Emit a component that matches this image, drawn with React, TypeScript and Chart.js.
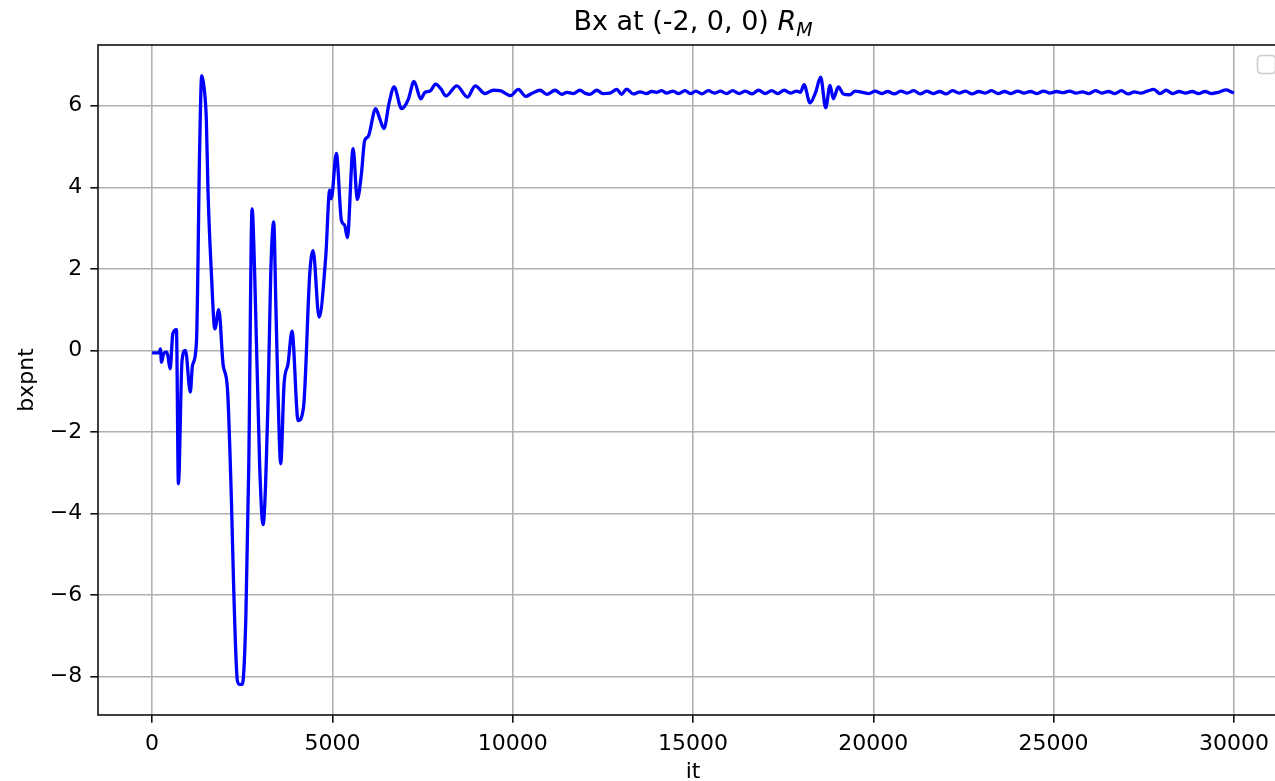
import React, { useEffect, useRef } from "react";
import { Chart, registerables } from "chart.js";

Chart.register(...registerables);

// ---- data ----
const xTickValues = [0, 5000, 10000, 15000, 20000, 25000, 30000];
const yTickValues = [-8, -6, -4, -2, 0, 2, 4, 6];
const xLimits = [-1500, 31500];
const yLimits = [-8.94, 7.49];

const titleMain = "Bx at (-2, 0, 0) ";
const titleSymbol = "R";
const titleSubscript = "M";
const xAxisLabel = "it";
const yAxisLabel = "bxpnt";

// [it, bxpnt]
const transientPhase: [number, number][] = [
  [0, -0.06], [200, -0.06], [230, 0.04], [260, -0.29], [320, -0.08],
  [400, -0.04], [440, -0.14], [500, -0.45], [575, 0.41], [675, 0.51],
  [730, -3.27], [830, -0.25], [925, 0.0], [1060, -1.02], [1120, -0.37],
  [1230, 0.2], [1320, 5.0], [1375, 6.74], [1440, 6.46], [1505, 5.64],
  [1550, 3.92], [1645, 1.88], [1740, 0.53], [1850, 1.0], [1970, -0.35],
  [2090, -0.94], [2200, -3.68], [2265, -5.9], [2365, -8.1], [2430, -8.19],
  [2500, -8.19], [2600, -6.55], [2680, -2.87], [2773, 3.47], [2845, 1.88],
  [2985, -2.87], [3077, -4.27], [3215, -1.23], [3290, 1.88], [3373, 3.15],
  [3430, 1.2], [3490, -0.98], [3567, -2.78], [3660, -0.82], [3770, -0.33],
  [3880, 0.47], [4050, -1.72], [4200, -1.39], [4372, 1.88], [4465, 2.45],
  [4630, 0.82], [4815, 2.29], [4925, 3.93], [4970, 3.72], [5110, 4.83],
  [5250, 3.19], [5340, 3.07], [5415, 2.77], [5575, 4.95], [5690, 3.7],
  [5805, 4.33], [5895, 5.15], [5990, 5.24], [6200, 5.93], [6310, 5.69],
  [6430, 5.44], [6570, 6.06], [6710, 6.46], [6920, 5.93], [6990, 5.97],
  [7110, 6.17], [7265, 6.6], [7450, 6.17], [7570, 6.33], [7710, 6.36],
  [7865, 6.53], [8005, 6.42], [8150, 6.24], [8450, 6.49], [8745, 6.21],
  [8960, 6.49], [9230, 6.3], [9465, 6.38], [9650, 6.37], [9945, 6.25],
];

const steadyPhase: [number, number][] = [
  [10155, 6.4], [10360, 6.23], [10525, 6.3], [10760, 6.38], [10945, 6.28],
  [11175, 6.38], [11360, 6.28], [11500, 6.33], [11680, 6.3], [11865, 6.38],
  [12000, 6.31], [12145, 6.28], [12330, 6.38], [12500, 6.3], [12700, 6.31],
  [12885, 6.4], [13020, 6.28], [13160, 6.41], [13345, 6.29], [13530, 6.34],
  [13715, 6.3], [13850, 6.35], [13990, 6.33], [14130, 6.37], [14270, 6.31],
  [14450, 6.36], [14600, 6.3], [14780, 6.37], [14930, 6.3], [15080, 6.36],
  [15250, 6.29], [15420, 6.37], [15600, 6.31], [15760, 6.36], [15930, 6.3],
  [16100, 6.37], [16280, 6.3], [16450, 6.36], [16640, 6.29], [16820, 6.38],
  [17000, 6.3], [17180, 6.37], [17350, 6.3], [17530, 6.38], [17700, 6.31],
  [17880, 6.36], [17980, 6.33],
];

const disturbancePhase: [number, number][] = [
  [18080, 6.52], [18245, 6.07], [18400, 6.33], [18540, 6.7], [18680, 5.95],
  [18800, 6.5], [18890, 6.17], [19030, 6.46], [19170, 6.29], [19350, 6.27],
  [19500, 6.36],
];

const tailPhase: [number, number][] = [
  [19700, 6.33], [19880, 6.3], [20050, 6.36], [20230, 6.3], [20400, 6.35],
  [20580, 6.29], [20760, 6.36], [20940, 6.31], [21120, 6.37], [21300, 6.29],
  [21480, 6.36], [21660, 6.3], [21840, 6.35], [22020, 6.29], [22200, 6.37],
  [22380, 6.31], [22560, 6.36], [22740, 6.29], [22920, 6.35], [23100, 6.31],
  [23280, 6.37], [23460, 6.3], [23640, 6.35], [23820, 6.3], [24000, 6.36],
  [24180, 6.31], [24360, 6.35], [24540, 6.3], [24720, 6.36], [24900, 6.31],
  [25080, 6.35], [25260, 6.32], [25440, 6.36], [25620, 6.31], [25800, 6.34],
  [25980, 6.3], [26160, 6.37], [26340, 6.31], [26520, 6.35], [26700, 6.3],
  [26880, 6.37], [27060, 6.29], [27240, 6.34], [27420, 6.31], [27600, 6.36],
  [27780, 6.4], [27950, 6.3], [28120, 6.38], [28300, 6.3], [28480, 6.35],
  [28660, 6.31], [28840, 6.35], [29020, 6.3], [29200, 6.35], [29380, 6.3],
  [29560, 6.33], [29795, 6.39], [29900, 6.35], [30000, 6.31],
];

const FONT = '"DejaVu Sans", "Liberation Sans", sans-serif';

const decorPlugin = {
  id: "decor",
  afterDraw(chart: any) {
    const { ctx, chartArea: a } = chart;
    ctx.save();
    // spines (all four, like matplotlib)
    ctx.strokeStyle = "#111";
    ctx.lineWidth = 1.6;
    ctx.strokeRect(a.left, a.top, a.right - a.left, a.bottom - a.top);

    // empty legend frame (upper right)
    ctx.fillStyle = "rgba(255,255,255,0.8)";
    ctx.strokeStyle = "#cccccc";
    ctx.lineWidth = 1.6;
    ctx.beginPath();
    (ctx as any).roundRect(a.right - 30.5, a.top + 10.5, 18, 18, 4);
    ctx.fill();
    ctx.stroke();

    // title with math-like R_M
    const fMain = `27px ${FONT}`;
    const fItal = `italic 27px ${FONT}`;
    const fSub = `italic 19px ${FONT}`;
    ctx.font = fMain;
    const w1 = ctx.measureText(titleMain).width;
    ctx.font = fItal;
    const w2 = ctx.measureText(titleSymbol).width;
    ctx.font = fSub;
    const w3 = ctx.measureText(titleSubscript).width;
    const total = w1 + w2 + w3;
    let x = (a.left + a.right) / 2 - total / 2;
    const base = 30;
    ctx.fillStyle = "#000";
    ctx.textAlign = "left";
    ctx.textBaseline = "alphabetic";
    ctx.font = fMain;
    ctx.fillText(titleMain, x, base);
    x += w1;
    ctx.font = fItal;
    ctx.fillText(titleSymbol, x, base);
    x += w2;
    ctx.font = fSub;
    ctx.fillText(titleSubscript, x, base + 6);
    ctx.restore();
  },
};

export default function App() {
  const canvasRef = useRef<HTMLCanvasElement | null>(null);

  useEffect(() => {
    const canvas = canvasRef.current;
    if (!canvas) return;
    const points = [...transientPhase, ...steadyPhase, ...disturbancePhase, ...tailPhase].map(
      ([it, v]) => ({ x: it, y: v })
    );
    const chart = new Chart(canvas, {
      type: "line",
      data: {
        datasets: [
          {
            data: points,
            borderColor: "#0000ff",
            borderWidth: 3.3,
            pointRadius: 0,
            fill: false,
            cubicInterpolationMode: "monotone",
          },
        ],
      },
      options: {
        animation: false,
        responsive: false,
        devicePixelRatio: 1,
        layout: { autoPadding: false, padding: { left: 0, right: 12, top: 45, bottom: 0 } },
        plugins: {
          legend: { display: false },
          tooltip: { enabled: false },
          title: { display: false },
        },
        scales: {
          x: {
            type: "linear",
            min: xLimits[0],
            max: xLimits[1],
            afterBuildTicks: (s: any) => {
              s.ticks = xTickValues.map((v) => ({ value: v }));
            },
            afterFit: (s: any) => {
              s.height = 66;
            },
            ticks: {
              color: "#000",
              font: { family: FONT, size: 22 },
              padding: 8,
              maxRotation: 0,
              autoSkip: false,
              callback: (v: any) => String(v),
            },
            grid: {
              color: "#b0b0b0",
              lineWidth: 1.6,
              tickColor: "#111",
              tickLength: 7.7,
              tickWidth: 1.6,
              drawTicks: true,
            },
            border: { display: false },
            title: {
              display: true,
              text: xAxisLabel,
              color: "#000",
              font: { family: FONT, size: 22, lineHeight: 0.8 },
              padding: 0,
            },
          },
          y: {
            type: "linear",
            min: yLimits[0],
            max: yLimits[1],
            afterBuildTicks: (s: any) => {
              s.ticks = yTickValues.map((v) => ({ value: v }));
            },
            afterFit: (s: any) => {
              s.width = 98;
            },
            ticks: {
              color: "#000",
              font: { family: FONT, size: 22 },
              padding: 8,
              autoSkip: false,
              callback: (v: any) => (v < 0 ? "\u2212" + Math.abs(v) : String(v)),
            },
            grid: {
              color: "#b0b0b0",
              lineWidth: 1.6,
              tickColor: "#111",
              tickLength: 7.7,
              tickWidth: 1.6,
              drawTicks: true,
            },
            border: { display: false },
            title: {
              display: true,
              text: yAxisLabel,
              color: "#000",
              font: { family: FONT, size: 22 },
              padding: { top: 14.3, bottom: 0 },
            },
          },
        },
      },
      plugins: [decorPlugin],
    } as any);
    return () => chart.destroy();
  }, []);

  return (
    <div
      style={{
        position: "fixed",
        left: 0,
        top: 0,
        width: 1275,
        height: 781,
        overflow: "hidden",
        background: "#fff",
      }}
    >
      <canvas
        ref={canvasRef}
        width={1300}
        height={781}
        style={{ display: "block", width: 1300, height: 781 }}
      />
    </div>
  );
}
